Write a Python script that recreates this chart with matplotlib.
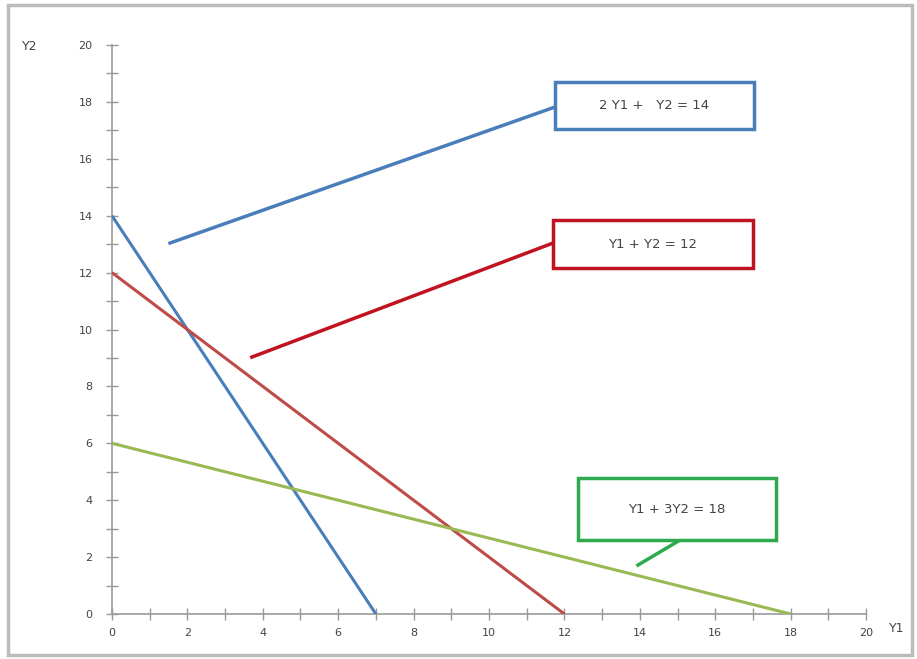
import numpy as np
import matplotlib.pyplot as plt
from matplotlib.patches import Rectangle
from matplotlib.ticker import MultipleLocator

# constraint lines: endpoints on the two axes
line_labels = ["2 Y1 +   Y2 = 14", "Y1 + Y2 = 12", "Y1 + 3Y2 = 18"]
y1_intercepts = [7, 12, 18]
y2_intercepts = [14, 12, 6]
line_colors = ["#4a7ebb", "#be4b48", "#98b954"]
box_colors = ["#4a7ebb", "#c0121f", "#2ea94e"]

# callouts: (box x0, box y0, box width, box height), leader from -> to
boxes = [(11.75, 17.05, 5.28, 1.65), (11.7, 12.16, 5.3, 1.69), (12.36, 2.6, 5.25, 2.18)]
leaders = [((1.54, 13.04), (11.75, 17.82)),
           ((3.71, 9.03), (11.7, 13.04)),
           ((13.95, 1.72), (15.07, 2.6))]

fig = plt.figure(figsize=(9.17, 6.59), dpi=100)
ax = fig.add_axes([0.1221, 0.0683, 0.8223, 0.8634])

for x0, y0, c in zip(y1_intercepts, y2_intercepts, line_colors):
    ax.plot([0, x0], [y0, 0], color=c, lw=2.2, solid_capstyle="butt", zorder=3)

for (bx, by, bw, bh), (p0, p1), c, lab in zip(boxes, leaders, box_colors, line_labels):
    ax.plot([p0[0], p1[0]], [p0[1], p1[1]], color=c, lw=2.5, zorder=3)
    ax.add_patch(Rectangle((bx, by), bw, bh, facecolor="white", edgecolor=c,
                           lw=2.5, zorder=4))
    ax.text(bx + bw / 2, by + bh / 2, lab, ha="center", va="center",
            fontsize=9.5, color="#444444", zorder=5)

ax.set_xlim(0, 20)
ax.set_ylim(0, 20)
for s in ["top", "right"]:
    ax.spines[s].set_visible(False)
for s in ["left", "bottom"]:
    ax.spines[s].set_color("#999999")
    ax.spines[s].set_linewidth(1.2)
ax.xaxis.set_major_locator(MultipleLocator(2))
ax.xaxis.set_minor_locator(MultipleLocator(1))
ax.yaxis.set_major_locator(MultipleLocator(2))
ax.yaxis.set_minor_locator(MultipleLocator(1))
ax.tick_params(which="both", direction="inout", length=8, width=1, color="#999999",
               labelsize=8, labelcolor="#444444")
ax.tick_params(axis="y", pad=10)
ax.tick_params(axis="x", pad=6)

fig.text(30 / 917, 1 - 47 / 659, "Y2", fontsize=9, color="#444444", ha="center", va="center")
fig.text(897 / 917, 1 - 628 / 659, "Y1", fontsize=9, color="#444444", ha="center", va="center")

fig.patches.append(Rectangle((8 / 917, 4 / 659), 904 / 917, 650 / 659, transform=fig.transFigure,
                             facecolor="none", edgecolor="#bbbbbb", lw=2.5))

fig.savefig("out.png", dpi=100)
